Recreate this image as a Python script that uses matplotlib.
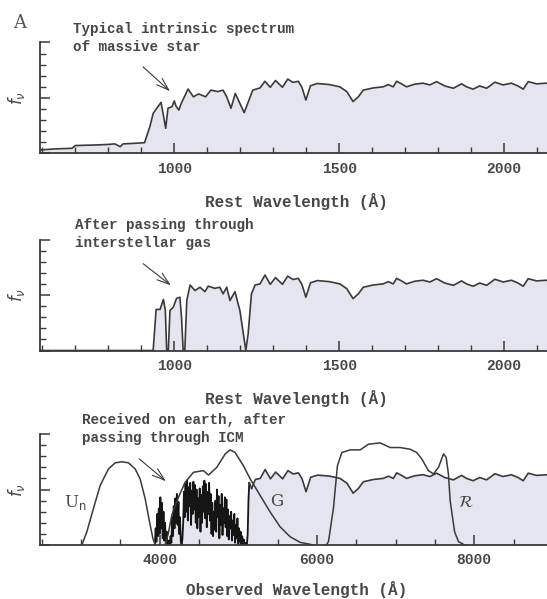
import numpy as np
import matplotlib
matplotlib.use("Agg")
import matplotlib.pyplot as plt
from matplotlib.ticker import MultipleLocator

# intrinsic spectrum of a massive star (rest frame, Angstrom / arbitrary f_nu)
rest_wave = [593, 640, 690, 700, 760, 800, 820, 836, 845, 880, 910, 926, 936, 960,
             974, 981, 993, 1000, 1005, 1014, 1021, 1042, 1058, 1074, 1095, 1111,
             1132, 1148, 1159, 1172, 1185, 1212, 1238, 1260, 1275, 1291, 1307, 1328,
             1344, 1360, 1376, 1387, 1399, 1413, 1434, 1471, 1502, 1523, 1542, 1558,
             1573, 1603, 1633, 1649, 1664, 1674, 1689, 1704, 1729, 1754, 1775, 1795,
             1820, 1846, 1871, 1886, 1906, 1926, 1947, 1972, 1997, 2022, 2042, 2058,
             2073, 2098, 2130]
flux_intrinsic = [0.3, 0.4, 0.45, 0.7, 0.75, 0.8, 0.85, 0.6, 0.85, 0.9, 0.96, 2.4, 3.6, 4.6,
                  2.26, 4.07, 4.2, 4.73, 4.28, 3.9, 4.5, 5.8, 5.1, 5.36, 5.1, 5.7,
                  5.57, 5.7, 5.1, 4.07, 5.4, 3.67, 5.7, 5.9, 6.5, 5.96, 6.57, 5.96,
                  6.7, 6.4, 6.5, 5.96, 4.8, 6.1, 6.3, 6.2, 6.0, 5.57, 4.67, 5.1,
                  5.7, 5.9, 6.0, 6.2, 6.0, 6.5, 6.27, 6.0, 6.24, 6.33, 6.17, 6.47,
                  6.08, 5.87, 6.27, 6.0, 5.79, 6.08, 5.87, 6.42, 6.17, 6.33, 6.08, 5.79,
                  6.47, 6.27, 6.33]

# after interstellar absorption (blue part; redder than 1290 A equals the intrinsic one)
ism_wave_blue = [593, 936, 945, 957, 967, 973, 977, 982, 987, 997, 1007, 1017, 1022,
                 1027, 1032, 1038, 1048, 1063, 1078, 1093, 1103, 1123, 1138, 1148,
                 1159, 1169, 1184, 1199, 1211, 1217, 1224, 1234, 1245, 1260, 1275]
ism_flux_blue = [0, 0, 3.7, 3.7, 4.6, 3.6, 0, 0, 3.6, 3.9, 4.7, 4.8, 3.0,
                 0, 0, 4.5, 5.9, 5.4, 5.7, 5.3, 5.8, 5.6, 5.7, 5.1,
                 5.7, 4.5, 5.3, 3.6, 1.2, 0, 1.5, 5.1, 5.9, 6.0, 6.8]

one_plus_z = 4.19

# Lyman-alpha forest in the observed frame, sampled every 10 A from 3940 A
forest_start, forest_step = 3940, 10
forest_flux = [0, 1.5, 0.3, 2.8, 0.8, 3.3, 1.0, 4.3, 1.5, 3.8, 0.6, 3.0, 0.4, 2.0, 0.2, 1.2, 0,
               0, 0.4, 0, 0.8, 0.2,
               2.5, 0.8, 3.5, 1.5, 4.2, 2.0, 4.6, 1.8, 3.9, 1.0, 2.5, 0.3,
               0, 0.5, 2.0,
               4.8, 2.5, 5.5, 3.0, 5.8, 2.2, 5.2, 3.5, 5.6, 1.8, 4.9, 2.8, 5.7, 3.2, 5.4,
               2.0, 5.0, 1.5, 4.2, 2.5, 5.1, 1.2,
               4.5, 2.0, 5.3, 3.0, 5.8, 2.4, 5.5, 1.6, 4.8, 2.8, 5.6, 2.2, 4.6, 1.0, 3.8,
               0.8, 3.0, 1.4,
               4.0, 1.2, 5.0, 2.5, 4.4, 0.6, 3.6, 1.8, 4.6, 0.9, 3.3, 2.0, 4.3, 1.6, 4.1, 0.8,
               3.2, 0.5, 2.6, 1.5, 3.0, 0.4, 2.2, 0.9, 2.8, 0.2, 1.8, 0.6, 2.4, 0.1, 1.5,
               0.3, 1.2, 0, 0.8, 0.2, 0.5, 0, 0.2, 0,
               0, 1.0, 4.0, 5.6]

# filter transmission curves (observed frame)
un_wave = [3012, 3076, 3160, 3245, 3350, 3436, 3521, 3605, 3690, 3753, 3817, 3872, 3915, 3944]
un_resp = [0, 1.2, 3.3, 5.36, 6.85, 7.4, 7.5, 7.4, 6.85, 5.95, 4.17, 2.1, 0.6, 0]
g_wave = [4070, 4110, 4156, 4240, 4325, 4431, 4558, 4622, 4728, 4834, 4897, 4961, 5066,
          5152, 5279, 5406, 5533, 5660, 5787, 5956]
g_resp = [0, 1.0, 2.7, 4.3, 5.65, 6.55, 6.7, 6.3, 7.0, 8.2, 8.57, 8.33, 7.14,
          5.95, 4.46, 2.97, 1.63, 0.74, 0.24, 0]
r_wave = [6120, 6147, 6210, 6261, 6317, 6423, 6550, 6655, 6804, 6931, 7058, 7185, 7270,
          7334, 7418, 7482, 7546, 7609, 7643, 7672, 7694, 7750, 7800, 7880]
r_resp = [0, 0.3, 3.3, 7.14, 8.33, 8.57, 8.57, 9.08, 9.2, 8.78, 8.78, 8.63, 8.33,
          7.74, 6.7, 6.4, 7.0, 8.2, 7.9, 6.4, 4.0, 1.2, 0.3, 0]

ink = "#3a3a3a"
text_ink = "#474747"
fill_col = "#e4e5ee"
mono = "Liberation Mono"
wt = "bold"

W, H = 547, 599
fig = plt.figure(figsize=(W / 100, H / 100), dpi=100)


def make_axes(top_px, bottom_px):
    ax = fig.add_axes([40 / W, 1 - bottom_px / H, 1 - 40 / W, (bottom_px - top_px) / H])
    ax.set_ylim(0, 10)
    for s in ["top", "right"]:
        ax.spines[s].set_visible(False)
    for s in ["left", "bottom"]:
        ax.spines[s].set_color(ink)
        ax.spines[s].set_linewidth(1.3)
    ax.yaxis.set_major_locator(MultipleLocator(5))
    ax.yaxis.set_minor_locator(MultipleLocator(1))
    ax.tick_params(which="both", direction="in", colors=ink, labelleft=False, pad=6)
    ax.tick_params(which="major", length=7, width=1.1)
    ax.tick_params(which="minor", length=4, width=1.0)
    ax.tick_params(axis="x", labelsize=10.5, labelcolor=text_ink)
    ax.set_ylabel(r"$f_\nu$", color=text_ink, fontsize=12)
    ax.yaxis.set_label_coords(-0.026, 0.5)
    return ax


def set_xticks(ax, major, minor):
    ax.xaxis.set_major_locator(MultipleLocator(major))
    ax.xaxis.set_minor_locator(MultipleLocator(minor))
    for lab in ax.get_xticklabels():
        lab.set_fontfamily(mono)
        lab.set_fontweight(wt)


def arrow(ax, text, xy_px, xytext_px, text_px):
    fig.text(text_px[0] / W, 1 - text_px[1] / H, text, fontfamily=mono, fontsize=10.3,
             fontweight=wt, color=text_ink, va="top", ha="left", linespacing=1.35)
    ax.annotate("", xy=(xy_px[0] / W, 1 - xy_px[1] / H), xycoords="figure fraction",
                xytext=(xytext_px[0] / W, 1 - xytext_px[1] / H), textcoords="figure fraction",
                arrowprops=dict(arrowstyle="->,head_length=0.9,head_width=0.3", color=ink, lw=0.8))


# ---- panel 1
ax1 = make_axes(42.5, 153.3)
ax1.set_xlim(593, 2130)
set_xticks(ax1, 500, 100)
ax1.fill_between(rest_wave, flux_intrinsic, color=fill_col, lw=0)
ax1.plot(rest_wave, flux_intrinsic, color=ink, lw=1.2)
ax1.set_xlabel("Rest Wavelength (Å)", fontfamily=mono, fontweight=wt, fontsize=11.5, color=text_ink)
ax1.xaxis.set_label_coords(0.505, -0.36)
arrow(ax1, "Typical intrinsic spectrum\nof massive star", (172, 93), (141, 65), (73, 22))

# ---- panel 2
ism_wave = ism_wave_blue + [w for w in rest_wave if w > 1290]
ism_flux = ism_flux_blue + [f for w, f in zip(rest_wave, flux_intrinsic) if w > 1290]
ax2 = make_axes(239.5, 350.5)
ax2.set_xlim(593, 2130)
set_xticks(ax2, 500, 100)
ax2.fill_between(ism_wave, ism_flux, color=fill_col, lw=0)
ax2.plot(ism_wave, ism_flux, color=ink, lw=1.2)
ax2.set_xlabel("Rest Wavelength (Å)", fontfamily=mono, fontweight=wt, fontsize=11.5, color=text_ink)
ax2.xaxis.set_label_coords(0.505, -0.36)
arrow(ax2, "After passing through\ninterstellar gas", (173, 287), (141, 262), (75, 218))

# ---- panel 3
forest_wave = [forest_start + forest_step * i for i in range(len(forest_flux))]
red_wave = [w * one_plus_z for w in ism_wave if w >= 1234]
red_flux = [f for w, f in zip(ism_wave, ism_flux) if w >= 1234]
obs_wave = [2480] + forest_wave + red_wave
obs_flux = [0] + forest_flux + red_flux
ax3 = make_axes(434, 545)
ax3.set_xlim(2480, 8925)
set_xticks(ax3, 2000, 500)
ax3.fill_between(obs_wave, obs_flux, color=fill_col, lw=0)
ax3.plot(forest_wave, forest_flux, color="#151515", lw=1.3)
ax3.plot(red_wave, red_flux, color=ink, lw=1.2)
ax3.plot([forest_wave[-1], red_wave[0]], [forest_flux[-1], red_flux[0]], color=ink, lw=1.2)
for fw, fr in [(un_wave, un_resp), (g_wave, g_resp), (r_wave, r_resp)]:
    ax3.plot(fw, fr, color=ink, lw=1.1)
ax3.set_xlabel("Observed Wavelength (Å)", fontfamily=mono, fontweight=wt, fontsize=11.5,
               color=text_ink)
ax3.xaxis.set_label_coords(0.507, -0.325)
arrow(ax3, "Received on earth, after\npassing through ICM", (168, 483), (137, 457), (82, 413))

fig.text(75 / W, 1 - 502 / H, r"U$_{\rm n}$", fontfamily="DejaVu Serif", fontsize=12,
         color=text_ink, ha="center", va="center")
fig.text(277 / W, 1 - 502 / H, "G", fontfamily="DejaVu Serif", fontsize=12,
         color=text_ink, ha="center", va="center")
fig.text(466 / W, 1 - 502 / H, r"$\mathcal{R}$", fontsize=12, color=text_ink,
         ha="center", va="center")

fig.text(20 / W, 1 - 23 / H, "A", fontfamily="DejaVu Serif", fontsize=13,
         color="#555555", ha="center", va="center")

fig.savefig("out.png", dpi=100, facecolor="white")
